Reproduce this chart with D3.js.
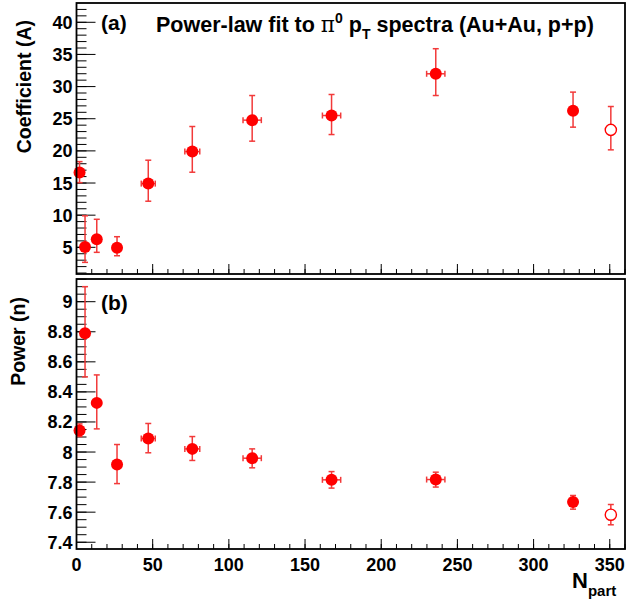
<!DOCTYPE html>
<html>
<head>
<meta charset="utf-8">
<script src="https://cdn.jsdelivr.net/npm/d3@7"></script>
<style>
body { margin: 0; background: #fff; }
text { font-family: "Liberation Sans", Arial, sans-serif; font-weight: bold; }
</style>
</head>
<body>
<div id="chart"></div>
<script>
// N_part values and horizontal errors
var npart = [2, 5.6, 13.3, 26.6, 47.1, 76.0, 115.3, 167.4, 235.8, 325.9, 350.7];
var npartErr = [0, 0, 0, 0, 4.6, 4.9, 6, 6, 6, 0, 0];
// coefficient A with asymmetric errors
var coefA = [16.62, 5.05, 6.25, 4.94, 14.91, 19.89, 24.78, 25.5, 31.99, 26.23, 23.27];
var coefAHi = [18.33, 9.9, 9.36, 6.65, 18.55, 23.79, 28.61, 28.77, 35.89, 29.14, 26.9];
var coefALo = [15.06, 2.66, 4.22, 3.69, 12.17, 16.68, 21.51, 22.54, 28.61, 23.69, 20.16];
// power n with errors
var powerN = [8.143, 8.79, 8.327, 7.917, 8.09, 8.021, 7.959, 7.815, 7.817, 7.667, 7.583];
var powerHi = [8.187, 9.10, 8.513, 8.05, 8.19, 8.103, 8.021, 7.87, 7.866, 7.711, 7.651];
var powerLo = [8.103, 8.50, 8.154, 7.79, 7.995, 7.944, 7.895, 7.76, 7.767, 7.62, 7.516];
// last point (0-5%) drawn open
var openPoint = [false, false, false, false, false, false, false, false, false, false, true];

var xTicks = [0, 50, 100, 150, 200, 250, 300, 350];
var aTicks = [5, 10, 15, 20, 25, 30, 35, 40];
var nTicks = [7.4, 7.6, 7.8, 8, 8.2, 8.4, 8.6, 8.8, 9];

var W = 626, H = 602;
var svg = d3.select("#chart").append("svg")
	.attr("width", W)
	.attr("height", H);
svg.append("rect").attr("width", W).attr("height", H).attr("fill", "#fff");

var left = 76.5, right = 625;
var x = d3.scaleLinear().domain([0, 360]).range([left, right]);
var yA = d3.scaleLinear().domain([0.85, 43.0]).range([274, 3]);
var yN = d3.scaleLinear().domain([7.355, 9.151]).range([549, 279]);

var red = "#ff0000";
var errColor = "#f23a3a";

function drawPanel(y, vals, lo, hi, majors, minorStep, yLabels) {
	var g = svg.append("g");
	var y0 = y.range()[0], y1 = y.range()[1];
	// minor y ticks
	var yd = y.domain();
	var minors = d3.range(Math.ceil(yd[0] / minorStep) * minorStep, yd[1], minorStep);
	g.selectAll(".ymin").data(minors).enter().append("line")
		.attr("x1", left).attr("x2", left + 10)
		.attr("y1", function (d) { return y(d); })
		.attr("y2", function (d) { return y(d); })
		.attr("stroke", "#000").attr("stroke-width", 1);
	g.selectAll(".ymaj").data(majors).enter().append("line")
		.attr("x1", left).attr("x2", left + 19)
		.attr("y1", function (d) { return y(d); })
		.attr("y2", function (d) { return y(d); })
		.attr("stroke", "#000").attr("stroke-width", 1);
	g.selectAll(".ylab").data(majors).enter().append("text")
		.attr("x", left - 4)
		.attr("y", function (d) { return y(d) + 6.5; })
		.attr("text-anchor", "end")
		.attr("font-size", 18)
		.text(function (d, i) { return yLabels[i]; });
	// x ticks at bottom of frame
	g.selectAll(".xmin").data(d3.range(0, 361, 10)).enter().append("line")
		.attr("x1", function (d) { return x(d); })
		.attr("x2", function (d) { return x(d); })
		.attr("y1", y0).attr("y2", y0 - 5)
		.attr("stroke", "#000").attr("stroke-width", 1);
	g.selectAll(".xmaj").data(xTicks).enter().append("line")
		.attr("x1", function (d) { return x(d); })
		.attr("x2", function (d) { return x(d); })
		.attr("y1", y0).attr("y2", y0 - 10)
		.attr("stroke", "#000").attr("stroke-width", 1);

	// error bars
	var eb = g.append("g").attr("stroke", errColor).attr("stroke-width", 1.5).attr("fill", "none");
	npart.forEach(function (n, i) {
		var cx = x(n), cy = y(vals[i]);
		eb.append("line").attr("x1", cx).attr("x2", cx).attr("y1", y(lo[i])).attr("y2", y(hi[i]));
		eb.append("line").attr("x1", cx - 3).attr("x2", cx + 3).attr("y1", y(lo[i])).attr("y2", y(lo[i]));
		eb.append("line").attr("x1", cx - 3).attr("x2", cx + 3).attr("y1", y(hi[i])).attr("y2", y(hi[i]));
		if (npartErr[i] > 0) {
			var xl = x(n - npartErr[i]), xr = x(n + npartErr[i]);
			eb.append("line").attr("x1", xl).attr("x2", xr).attr("y1", cy).attr("y2", cy);
			eb.append("line").attr("x1", xl).attr("x2", xl).attr("y1", cy - 3).attr("y2", cy + 3);
			eb.append("line").attr("x1", xr).attr("x2", xr).attr("y1", cy - 3).attr("y2", cy + 3);
		}
	});
	// markers
	g.selectAll(".pt").data(npart).enter().append("circle")
		.attr("cx", function (d) { return x(d); })
		.attr("cy", function (d, i) { return y(vals[i]); })
		.attr("r", function (d, i) { return openPoint[i] ? 5.6 : 6; })
		.attr("fill", function (d, i) { return openPoint[i] ? "#fff" : red; })
		.attr("stroke", red)
		.attr("stroke-width", function (d, i) { return openPoint[i] ? 1.4 : 0; });

	// frame
	g.append("rect")
		.attr("x", left).attr("y", y1)
		.attr("width", right - left).attr("height", y0 - y1)
		.attr("fill", "none").attr("stroke", "#000").attr("stroke-width", 1.8);
}

drawPanel(yA, coefA, coefALo, coefAHi, aTicks, 1, aTicks.map(String));
drawPanel(yN, powerN, powerLo, powerHi, nTicks, 0.05, nTicks.map(function (d) { return String(d); }));

// x tick labels under bottom panel
svg.selectAll(".xlab").data(xTicks).enter().append("text")
	.attr("x", function (d) { return x(d); })
	.attr("y", 571)
	.attr("text-anchor", "middle")
	.attr("font-size", 18)
	.text(function (d) { return d; });

// x axis title
var xt = svg.append("text").attr("x", 572).attr("y", 588).attr("font-size", 22);
xt.append("tspan").text("N");
xt.append("tspan").attr("font-size", 15).attr("dy", 8).text("part");

// y axis titles
svg.append("text")
	.attr("transform", "translate(31,20) rotate(-90)")
	.attr("text-anchor", "end")
	.attr("font-size", 19.5)
	.text("Coefficient (A)");
svg.append("text")
	.attr("transform", "translate(25,297) rotate(-90)")
	.attr("text-anchor", "end")
	.attr("font-size", 19.5)
	.text("Power (n)");

// panel labels
svg.append("text").attr("x", 101).attr("y", 30).attr("font-size", 21).text("(a)");
svg.append("text").attr("x", 101).attr("y", 310).attr("font-size", 21).text("(b)");

// title
var tt = svg.append("text").attr("x", 156).attr("y", 32).attr("font-size", 21.5);
tt.append("tspan").text("Power-law fit to ");
tt.append("tspan").attr("font-weight", "normal").attr("font-family", "DejaVu Serif").text("π");
tt.append("tspan").attr("font-size", 14).attr("dy", -9).text("0");
tt.append("tspan").attr("dy", 9).text(" p");
tt.append("tspan").attr("font-size", 14).attr("dy", 7).text("T");
tt.append("tspan").attr("dy", -7).text(" spectra (Au+Au, p+p)");
</script>
</body>
</html>
